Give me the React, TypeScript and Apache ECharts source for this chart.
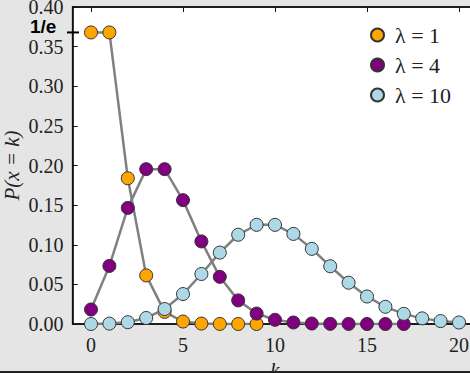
import React, { useEffect, useRef } from "react";
import * as echarts from "echarts";

const kValues1 = [0, 1, 2, 3, 4, 5, 6, 7, 8, 9];
const probs1 = [0.3679, 0.3679, 0.1839, 0.0613, 0.0153, 0.0031, 0.0005, 0.0001, 0.0, 0.0];
const kValues4 = [0, 1, 2, 3, 4, 5, 6, 7, 8, 9, 10, 11, 12, 13, 14, 15, 16, 17];
const probs4 = [0.0183, 0.0733, 0.1465, 0.1954, 0.1954, 0.1563, 0.1042, 0.0595, 0.0298, 0.0132, 0.0053, 0.0019, 0.0006, 0.0002, 0.0001, 0.0, 0.0, 0.0];
const kValues10 = [0, 1, 2, 3, 4, 5, 6, 7, 8, 9, 10, 11, 12, 13, 14, 15, 16, 17, 18, 19, 20];
const probs10 = [0.0, 0.0005, 0.0023, 0.0076, 0.0189, 0.0378, 0.0631, 0.0901, 0.1126, 0.1251, 0.1251, 0.1137, 0.0948, 0.0729, 0.0521, 0.0347, 0.0217, 0.0128, 0.0071, 0.0037, 0.0019];
const seriesNames = ["λ = 1", "λ = 4", "λ = 10"];
const seriesColors = ["#ffa500", "#800080", "#add8e6"];
const xTicks = [0, 5, 10, 15, 20];
const invE = 0.3679;

const serif = "Liberation Serif";

export default function App() {
  const ref = useRef<HTMLDivElement>(null);
  useEffect(() => {
    if (!ref.current) return;
    const chart = echarts.init(ref.current, undefined, { renderer: "svg" });
    const mk = (ks: number[], ps: number[], i: number) => ({
      name: seriesNames[i],
      type: "line",
      data: ks.map((k, j) => [k, ps[j]]),
      symbol: "circle",
      symbolSize: 13,
      lineStyle: { color: "#808080", width: 2.5 },
      itemStyle: { color: seriesColors[i], borderColor: "#333", borderWidth: 1 },
      z: 2 + i,
    });
    const axisLbl = { fontFamily: serif, fontSize: 20, color: "#222" };
    chart.setOption({
      animation: false,
      backgroundColor: "#e5e5e5",
      grid: {
        left: 72.6,
        top: 7,
        width: 404.8,
        height: 317,
        outerBoundsMode: "none",
        containLabel: false,
        show: true,
        backgroundColor: "#ffffff",
        borderColor: "#111",
        borderWidth: 1.5,
      },
      legend: {
        orient: "vertical",
        left: 370,
        top: 24,
        padding: 0,
        itemGap: 8,
        itemWidth: 13,
        itemHeight: 13,
        icon: "circle",
        textStyle: { fontFamily: serif, fontSize: 22, color: "#222", padding: [0, 0, 0, 6] },
        data: seriesNames,
      },
      xAxis: [
        {
          type: "value",
          min: -1,
          max: 21,
          name: "k",
          nameLocation: "middle",
          nameGap: 27,
          nameTextStyle: { fontFamily: serif, fontStyle: "italic", fontSize: 21, color: "#222" },
          axisLine: { onZero: false, lineStyle: { color: "#111", width: 1.5 } },
          axisTick: { inside: true, length: 5, customValues: xTicks, lineStyle: { color: "#111" } },
          axisLabel: { ...axisLbl, margin: 11, customValues: xTicks },
          splitLine: { show: false },
        },
        {
          type: "value",
          position: "top",
          min: -1,
          max: 21,
          axisLine: { onZero: false, lineStyle: { color: "#111", width: 1.5 } },
          axisTick: { inside: true, length: 5, customValues: xTicks, lineStyle: { color: "#111" } },
          axisLabel: { show: false, customValues: xTicks },
          splitLine: { show: false },
        },
      ],
      yAxis: {
        type: "value",
        min: 0,
        max: 0.4,
        interval: 0.05,
        name: "P(x = k)",
        nameLocation: "middle",
        nameGap: 50,
        nameMoveOverlap: false,
        nameTextStyle: { fontFamily: serif, fontStyle: "italic", fontSize: 21, color: "#222" },
        axisLine: { show: true, onZero: false, lineStyle: { color: "#111", width: 1.5 } },
        axisTick: { show: true, inside: true, length: 5, lineStyle: { color: "#111" } },
        axisLabel: { ...axisLbl, margin: 9, formatter: (v: number) => v.toFixed(2) },
        splitLine: { show: false },
      },
      series: [mk(kValues1, probs1, 0), mk(kValues4, probs4, 1), mk(kValues10, probs10, 2)],
    });
    const yPix = chart.convertToPixel({ yAxisIndex: 0 }, invE) as number;
    chart.setOption({
      graphic: [
        {
          type: "line",
          shape: { x1: 67, y1: yPix, x2: 79, y2: yPix },
          style: { stroke: "#000", lineWidth: 2 },
          z: 100,
        },
        {
          type: "text",
          x: 30,
          y: 17,
          style: { text: "1/e", font: "bold 19px 'Liberation Sans'", fill: "#000" },
          z: 100,
        },
        {
          type: "line",
          shape: { x1: 0, y1: 372, x2: 470, y2: 372 },
          style: { stroke: "#222", lineWidth: 2 },
          z: 100,
        },
      ],
    });
    return () => chart.dispose();
  }, []);
  return (
    <div style={{ position: "absolute", left: 0, top: 0 }}>
      <div ref={ref} style={{ width: 470, height: 373 }} />
    </div>
  );
}
